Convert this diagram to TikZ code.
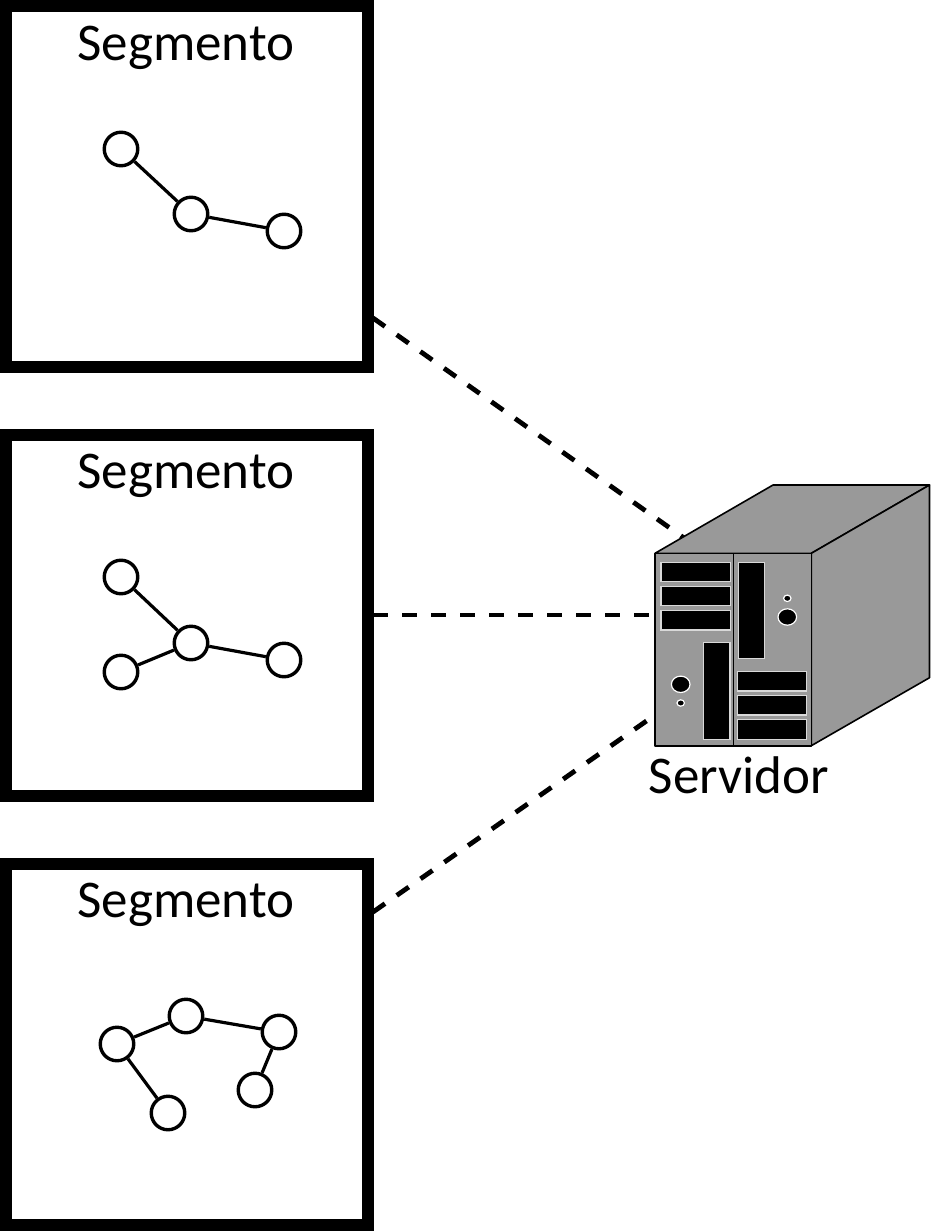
\documentclass[tikz,border=0pt]{standalone}
\usepackage{fontspec}
\setmainfont{Carlito}
\definecolor{srvgray}{HTML}{999999}
\tikzset{
  segbox/.style={draw=black,line width=12pt,fill=white,rectangle,minimum width=361.5pt,minimum height=361pt,inner sep=0pt,anchor=north west},
  vtx/.style={circle,draw=black,line width=3.4pt,fill=white,minimum size=33.5pt,inner sep=0pt},
  edge/.style={draw=black,line width=3.2pt},
  link/.style={draw=black,line width=4.8pt,dash pattern=on 14.6pt off 14.4pt},
  title/.style={font=\fontsize{53}{53}\selectfont,inner sep=0pt,anchor=base},
  face/.style={draw=black,line width=1.6pt,fill=srvgray,line join=round},
  slot/.style={draw=white!85!black,line width=1.4pt,fill=black},
  hole/.style={draw=white,line width=1.2pt,fill=black}
}
\begin{document}
\begin{tikzpicture}[x=1pt,y=-1pt]
\useasboundingbox (0,0) rectangle (931,1231);
\fill[white] (0,0) rectangle (931,1231);
% boxes
\node[segbox] (boxa) at (0,0) {};
\node[segbox] (boxb) at (0,429) {};
\node[segbox] (boxc) at (0,857.5) {};
\node[title] (ta) at (186,60.5) {Segmento};
\node[title] (tb) at (186,488.5) {Segmento};
\node[title] (tc) at (186,917.5) {Segmento};
% connector ends
\coordinate (la) at (373,318);
\coordinate (lb) at (373,615);
\coordinate (lc) at (373,912);
\coordinate (ra) at (684,538);
\coordinate (rb) at (655,615);
\coordinate (rc) at (655,715);
\draw[link] (la) -- (ra);
\draw[link] (lb) -- (rb);
\draw[link] (lc) -- (rc);
% graph a
\node[vtx] (a1) at (121,149) {};
\node[vtx] (a2) at (191,214) {};
\node[vtx] (a3) at (284,231) {};
\draw[edge] (a1) -- (a2);
\draw[edge] (a2) -- (a3);
% graph b
\node[vtx] (b1) at (121,577) {};
\node[vtx] (b2) at (191,643) {};
\node[vtx] (b3) at (284,660) {};
\node[vtx] (b4) at (121,672) {};
\draw[edge] (b1) -- (b2);
\draw[edge] (b2) -- (b3);
\draw[edge] (b4) -- (b2);
% graph c
\node[vtx] (c1) at (117,1044) {};
\node[vtx] (c2) at (186,1016) {};
\node[vtx] (c3) at (279,1032) {};
\node[vtx] (c4) at (255,1090) {};
\node[vtx] (c5) at (168,1113) {};
\draw[edge] (c1) -- (c2);
\draw[edge] (c2) -- (c3);
\draw[edge] (c3) -- (c4);
\draw[edge] (c1) -- (c5);
% server
\draw[face] (655,553.3) -- (773,485) -- (929.5,485) -- (811.3,553.3) -- cycle;
\draw[face] (811.3,553.3) -- (929.5,485) -- (929.5,677.7) -- (811.3,745.7) -- cycle;
\draw[face] (655,553.3) rectangle (811.3,745.7);
\draw[draw=black,line width=1.6pt] (733.3,553.3) -- (733.3,745.7);
\draw[slot] (661,562.3) rectangle (730.7,581.7);
\draw[slot] (661,586.3) rectangle (730.7,605.7);
\draw[slot] (661,610.3) rectangle (730.7,630);
\draw[slot] (738.3,562.3) rectangle (764.3,658.7);
\draw[slot] (703.3,642.7) rectangle (730,739.3);
\draw[slot] (737.3,671.3) rectangle (806.7,691);
\draw[slot] (737.3,695.3) rectangle (806.7,715);
\draw[slot] (737.3,719.7) rectangle (806.7,739.3);
\draw[hole] (787.3,617) ellipse [x radius=9.3,y radius=8.2];
\draw[hole] (787.3,598.3) ellipse [x radius=3.7,y radius=3.2];
\draw[hole] (680.7,684.3) ellipse [x radius=9.3,y radius=8.2];
\draw[hole] (680.7,703) ellipse [x radius=3.7,y radius=3.2];
\node[title] (srv) at (739,793.5) {Servidor};
\end{tikzpicture}
\end{document}
